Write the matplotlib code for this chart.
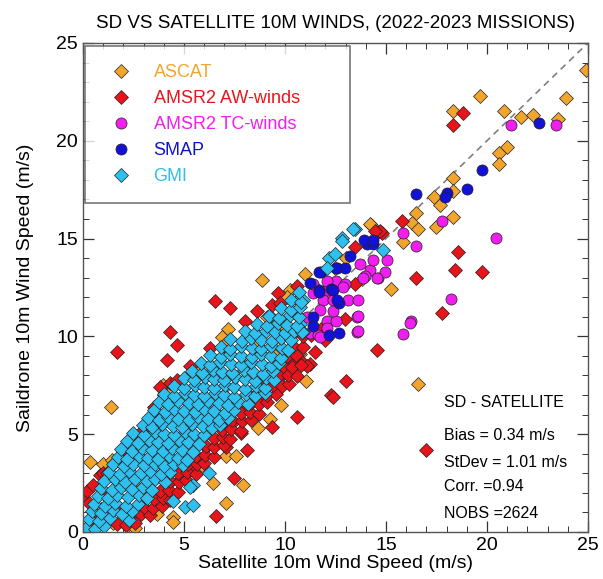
import matplotlib
matplotlib.use("Agg")
import matplotlib.pyplot as plt
from matplotlib.ticker import MultipleLocator
from matplotlib.lines import Line2D

plt.rcParams["font.family"] = ["Liberation Sans", "DejaVu Sans"]

# ---- data (satellite x, saildrone y, m/s) ----
ascat_x = [24.9, 19.65, 23.9, 18.3, 20.85, 21.7, 22.3, 23.5, 21.0, 20.6, 20.6, 18.3, 18.3, 17.4,
           17.7, 16.5, 16.3, 16.6, 17.5, 18.3, 14.25, 15.85, 15.25, 16.6, 14.2, 13.8, 11.0, 8.85,
           7.2, 6.9, 6.9, 11.05, 9.8, 8.65, 9.25, 7.1, 7.6, 7.9, 6.45, 7.1, 3.65, 4.45, 4.45,
           1.4, 0.35, 1.0, 1.45, 0.35, 1.5, 3.0, 3.3, 3.8, 4.3, 5.45, 5.8, 3.95, 4.3, 10.4, 10.75,
           9.1, 10.25, 10.1, 7.0, 10.65, 9.25, 0.1, 0.6, 2.2, 0.9, 2.0, 2.5, 4.0, 6.0, 8.0, 9.5,
           11.5, 12.5, 12.0, 13.0, 5.0, 3.0, 7.0, 8.5, 10.0, 2.6, 6.7, 8.9, 5.9]
ascat_y = [23.6, 22.3, 22.2, 21.5, 21.5, 21.2, 21.3, 21.1, 19.7, 19.4, 18.8, 18.1, 17.45, 17.1,
           16.7, 16.3, 15.8, 15.5, 15.6, 16.1, 15.7, 14.8, 12.4, 7.55, 15.75, 12.95, 13.2, 12.9,
           10.4, 9.95, 9.45, 7.7, 6.5, 5.3, 5.8, 3.9, 3.9, 2.4, 2.5, 1.5, 0.9, 0.75, 0.5,
           6.4, 3.6, 3.5, 3.7, 0.25, 0.45, 1.8, 2.65, 2.9, 2.55, 8.1, 8.25, 7.5, 7.1, 9.45, 9.1,
           11.0, 12.35, 12.0, 9.55, 9.1, 11.05, 0.1, 0.2, 0.3, 1.2, 1.0, 2.5, 4.0, 6.5, 8.5, 9.0,
           12.5, 13.5, 12.0, 14.0, 5.0, 3.5, 7.0, 9.5, 10.5, 0.2, 4.7, 7.2, 3.4]

amsr2_aw_x = [18.8, 18.3, 15.8, 14.55, 14.8, 18.55, 18.4, 19.75, 16.5, 17.8, 14.55, 13.0, 12.3,
              17.0, 1.7, 6.55, 7.3, 4.3, 4.65, 4.15, 9.65, 10.6, 6.6, 7.5, 8.1, 9.35, 10.6, 5.3,
              13.45, 14.7, 14.45, 13.45, 12.95, 11.8, 11.25, 10.75, 10.4, 12.4, 7.8, 7.1, 7.4,
              8.3, 9.1, 9.75, 11.1, 7.1, 7.8, 8.75, 4.65, 5.6, 6.1, 2.8, 2.8, 2.3, 0.0, 0.2, 0.85,
              1.5, 3.0, 2.8, 4.8, 4.3, 4.65, 5.3, 9.35, 9.75, 2.8, 3.3, 3.65, 3.8, 7.4,
              0.3, 0.5, 1.0, 0.3, 1.0, 1.8, 0.5, 1.2, 2.1, 6.3, 8.0, 8.6, 11.5, 12.0,
              1.2, 1.6, 2.0, 2.5, 3.5, 4.0,
              1.7, 2.15, 2.6, 2.85, 3.3, 3.0, 3.45, 3.9, 3.5, 3.95, 4.3, 3.8, 4.25, 4.7,
              4.3, 4.75, 5.1, 4.7, 5.15, 5.6, 5.2, 5.65, 6.0, 5.6, 6.05, 6.5, 6.1, 6.5, 7.0,
              6.5, 6.95, 7.3, 6.9, 7.35, 7.8, 7.4, 7.85, 8.3, 7.8, 8.25, 8.7, 8.3, 8.7, 9.1,
              9.1, 9.55, 9.4, 9.85, 10.2, 9.7, 10.15, 10.6, 9.9, 10.35, 10.8, 10.1, 10.55,
              10.4, 10.9, 10.9, 11.3]
amsr2_aw_y = [21.4, 20.8, 15.9, 15.3, 15.3, 14.3, 13.4, 13.3, 13.0, 11.2, 9.3, 7.7, 7.0,
              4.2, 9.2, 11.8, 11.45, 10.2, 9.55, 8.8, 12.2, 12.6, 0.8, 2.75, 4.2, 5.35, 5.9, 3.15,
              14.55, 15.4, 15.4, 12.7, 10.9, 10.4, 8.6, 8.8, 8.6, 6.9, 5.05, 4.35, 6.7,
              6.9, 7.6, 7.9, 8.5, 5.7, 6.3, 6.7, 3.5, 3.8, 4.35, 2.0, 1.0, 0.75, 1.8, 2.1, 2.9,
              2.8, 5.2, 1.3, 2.65, 7.6, 7.75, 8.5, 11.6, 11.7, 5.05, 5.35, 6.05, 7.4, 5.55,
              1.5, 2.4, 3.0, 0.3, 0.5, 1.2, 1.0, 1.8, 4.1, 9.4, 10.8, 11.3, 9.2, 9.8,
              3.0, 3.6, 4.2, 4.9, 6.4, 7.0,
              0.4, 0.35, 0.45, 0.9, 0.85, 1.3, 1.25, 1.35, 1.7, 1.75, 1.65, 2.1, 2.15, 2.05,
              2.6, 2.55, 2.65, 3.0, 3.05, 2.95, 3.5, 3.45, 3.55, 3.9, 3.95, 3.85, 4.4, 4.35, 4.45,
              4.8, 4.85, 4.75, 5.2, 5.25, 5.15, 5.7, 5.65, 5.75, 6.1, 6.15, 6.05, 6.6, 6.55, 6.65,
              7.0, 7.05, 7.5, 7.45, 7.55, 8.0, 8.05, 7.95, 8.5, 8.45, 8.55, 9.0, 9.05,
              9.5, 9.45, 10.0, 10.05]

amsr2_tc_x = [21.2, 23.4, 17.8, 15.85, 20.45, 16.5, 18.2, 16.25, 15.85, 13.7, 14.2, 14.6, 15.05,
              14.95, 13.95, 12.55, 12.95, 12.1, 11.9, 12.4, 13.1, 13.6, 13.55, 11.75, 12.1, 12.55,
              11.25, 11.65, 13.55, 16.2, 11.4, 12.4, 12.1, 11.75, 11.1, 11.4, 12.1, 14.35, 14.55,
              13.85, 12.85, 13.6, 13.6]
amsr2_tc_y = [20.8, 20.8, 15.9, 15.3, 15.05, 14.6, 11.9, 10.8, 10.1, 13.7, 13.4, 13.0, 13.9,
              13.3, 13.1, 12.85, 12.7, 12.35, 11.85, 11.85, 11.85, 11.85, 11.0, 11.35, 10.8, 10.8,
              10.15, 10.05, 10.2, 10.7, 12.2, 11.3, 10.45, 9.95, 11.0, 12.7, 12.85, 13.9, 13.0,
              13.0, 12.5, 11.05, 10.25]

smap_x = [22.6, 19.75, 16.5, 19.0, 18.0, 17.9, 14.05, 14.35, 13.2, 11.8, 12.6, 12.95, 11.25,
          11.7, 12.3, 12.7, 11.4, 11.4, 12.2, 12.7, 11.7, 11.7, 12.4, 13.9, 14.35, 12.55, 12.6]
smap_y = [20.9, 18.5, 17.3, 17.55, 17.35, 17.1, 14.7, 14.7, 14.1, 13.3, 13.5, 13.5, 12.75,
          12.35, 12.4, 11.7, 11.0, 10.55, 10.05, 10.15, 13.3, 12.25, 12.35, 14.95, 14.95, 13.5, 11.85]

gmi_x = [13.45, 12.8, 12.8, 12.2, 14.85, 12.1, 12.5, 10.65, 10.9, 10.5, 10.75, 10.4, 10.9,
         5.05, 5.45, 4.45, 5.45, 6.25, 13.35, 5.3,
         0.15, 0.6, 1.05,
         0.3, 0.8, 1.35, 2.3,
         0.45, 0.9, 1.5, 1.95, 2.45,
         0.55, 1.1, 1.6, 2.15, 2.7,
         0.75, 1.25, 1.7, 2.25, 2.75, 3.15,
         0.9, 1.45, 1.9, 2.45, 2.95, 3.4,
         1.05, 1.6, 2.1, 2.6, 3.15, 3.55, 4.05,
         1.3, 1.85, 2.3, 2.85, 3.3, 3.85, 4.3,
         1.5, 2.05, 2.5, 3.0, 3.55, 4.0, 4.5, 4.95,
         1.75, 2.2, 2.75, 3.2, 3.7, 4.25, 4.7, 5.15,
         1.9, 2.45, 2.9, 3.4, 3.95, 4.4, 4.9, 5.45,
         2.2, 2.7, 3.25, 3.7, 4.2, 4.75, 5.2, 5.75,
         2.5, 3.0, 3.55, 4.0, 4.5, 5.05, 5.5, 6.0,
         2.95, 3.4, 3.9, 4.45, 4.9, 5.4, 5.95, 6.4, 6.8,
         3.2, 3.75, 4.2, 4.7, 5.25, 5.7, 6.2, 6.75, 7.2,
         3.5, 4.05, 4.5, 5.0, 5.55, 6.0, 6.5, 7.05, 7.5,
         3.75, 4.2, 4.7, 5.25, 5.7, 6.2, 6.75, 7.2, 7.7, 8.15,
         4.0, 4.5, 5.05, 5.5, 6.0, 6.55, 7.0, 7.5, 8.05, 8.5, 9.0,
         4.5, 5.0, 5.55, 6.0, 6.5, 7.05, 7.5, 8.0, 8.55, 9.0,
         5.0, 5.5, 6.05, 6.5, 7.0, 7.55, 8.0, 8.5, 9.05, 9.45,
         5.4, 5.9, 6.45, 6.9, 7.4, 7.95, 8.4, 8.9, 9.4,
         5.85, 6.3, 6.8, 7.35, 7.8, 8.3, 8.85, 9.3, 9.7,
         6.3, 6.85, 7.3, 7.8, 8.35, 8.8, 9.3, 9.8,
         6.85, 7.3, 7.8, 8.35, 8.8, 9.3, 9.85, 10.15,
         7.3, 7.85, 8.3, 8.8, 9.35, 9.8, 10.3,
         8.0, 8.5, 9.05, 9.5, 10.0, 10.45, 10.85,
         8.6, 9.1, 9.65, 10.1, 10.6,
         9.2, 9.7, 10.25, 10.7,
         9.8, 10.3, 10.75,
         10.3, 10.8,
         10.7]
gmi_y = [15.5, 15.05, 14.9, 14.0, 14.4, 13.5, 14.2, 11.85, 11.85, 11.2, 10.65, 10.15, 10.2,
         1.3, 1.4, 1.6, 2.4, 3.0, 15.5, 2.3,
         0.2, 0.15, 0.3,
         0.65, 0.55, 0.7, 0.6,
         1.05, 0.95, 1.1, 0.9, 1.05,
         1.45, 1.35, 1.5, 1.35, 1.45,
         1.85, 1.75, 1.9, 1.8, 1.9, 1.75,
         2.25, 2.15, 2.3, 2.2, 2.3, 2.15,
         2.6, 2.7, 2.55, 2.7, 2.6, 2.7, 2.55,
         3.05, 2.95, 3.1, 3.0, 3.1, 2.95, 3.05,
         3.45, 3.35, 3.5, 3.4, 3.45, 3.35, 3.5, 3.4,
         3.85, 3.75, 3.9, 3.8, 3.75, 3.9, 3.8, 3.7,
         4.25, 4.15, 4.3, 4.2, 4.15, 4.3, 4.2, 4.1,
         4.65, 4.55, 4.7, 4.6, 4.55, 4.7, 4.6, 4.5,
         5.05, 4.95, 5.1, 5.0, 4.95, 5.1, 5.0, 4.95,
         5.45, 5.35, 5.5, 5.4, 5.35, 5.5, 5.4, 5.3, 5.45,
         5.85, 5.75, 5.9, 5.8, 5.75, 5.9, 5.8, 5.7, 5.85,
         6.25, 6.15, 6.3, 6.2, 6.15, 6.3, 6.2, 6.1, 6.25,
         6.65, 6.55, 6.7, 6.6, 6.55, 6.7, 6.6, 6.5, 6.65, 6.55,
         7.05, 6.95, 7.1, 7.0, 6.95, 7.1, 7.0, 6.9, 7.05, 6.95, 7.1,
         7.45, 7.35, 7.5, 7.4, 7.35, 7.5, 7.4, 7.3, 7.45, 7.35,
         7.85, 7.75, 7.9, 7.8, 7.75, 7.9, 7.8, 7.7, 7.85, 7.75,
         8.25, 8.15, 8.3, 8.2, 8.15, 8.3, 8.2, 8.1, 8.25,
         8.65, 8.55, 8.7, 8.6, 8.55, 8.7, 8.6, 8.5, 8.65,
         9.05, 8.95, 9.1, 9.0, 8.95, 9.1, 9.0, 8.9,
         9.45, 9.35, 9.5, 9.4, 9.35, 9.5, 9.4, 9.3,
         9.85, 9.75, 9.9, 9.8, 9.75, 9.9, 9.8,
         10.25, 10.15, 10.3, 10.2, 10.15, 10.3, 10.2,
         10.65, 10.55, 10.7, 10.6, 10.55,
         11.05, 10.95, 11.1, 11.0,
         11.45, 11.35, 11.5,
         11.85, 11.75,
         12.25]

labels = ["ASCAT", "AMSR2 AW-winds", "AMSR2 TC-winds", "SMAP", "GMI"]
colors = ["#F2A52C", "#E8141C", "#F01EEE", "#1212D6", "#2EC0EE"]
markers = ["D", "D", "o", "o", "D"]
stats = ["SD - SATELLITE", "Bias = 0.34 m/s", "StDev = 1.01 m/s", "Corr. =0.94", "NOBS =2624"]

fig = plt.figure(figsize=(6.03, 5.79), dpi=100)
ax = fig.add_axes([0.1376, 0.0812, 0.8374, 0.8446])

ax.plot([0, 25], [0, 25], color="gray", linestyle=(0, (4, 3)), linewidth=1.2, zorder=1)

series = [(ascat_x, ascat_y), (amsr2_aw_x, amsr2_aw_y), (amsr2_tc_x, amsr2_tc_y),
          (smap_x, smap_y), (gmi_x, gmi_y)]
for (xs, ys), c, m in zip(series, colors, markers):
    ms = 7.2 if m == "D" else 8.0
    ax.plot(xs, ys, linestyle="none", marker=m, ms=ms, mfc=c, mec="#222222",
            mew=0.5, zorder=2, clip_on=True)

ax.set_xlim(0, 25)
ax.set_ylim(0, 25)
ax.xaxis.set_major_locator(MultipleLocator(5))
ax.yaxis.set_major_locator(MultipleLocator(5))
ax.xaxis.set_minor_locator(MultipleLocator(1))
ax.yaxis.set_minor_locator(MultipleLocator(1))
ax.tick_params(which="both", direction="in", top=True, right=True, labelsize=14, colors="#333333")
ax.tick_params(which="major", length=8, width=0.9)
ax.tick_params(which="minor", length=4, width=0.7)
for t in ax.get_xticklabels() + ax.get_yticklabels():
    t.set_color("black")
for s in ax.spines.values():
    s.set_color("#555555")
    s.set_linewidth(1.0)

ax.set_xlabel("Satellite 10m Wind Speed (m/s)", fontsize=14, labelpad=1)
ax.set_ylabel("Saildrone 10m Wind Speed (m/s)", fontsize=14, labelpad=16)
ax.set_title("SD VS SATELLITE 10M WINDS, (2022-2023 MISSIONS)", fontsize=13.5, pad=11)

handles = [Line2D([], [], linestyle="none", marker=m, ms=(7.2 if m == "D" else 8.0),
                  mfc=c, mec="#222222", mew=0.5) for c, m in zip(colors, markers)]
leg = ax.legend(handles, labels, loc="upper left", bbox_to_anchor=(0.004, 0.994, 0.525, 0),
                mode="expand", fontsize=13, frameon=True, fancybox=False, borderpad=1.0,
                labelspacing=0.5, handletextpad=0.8, handlelength=2.0, borderaxespad=0)
leg.get_frame().set_edgecolor("#555555")
leg.get_frame().set_linewidth(1.2)
for txt, c in zip(leg.get_texts(), colors):
    txt.set_color(c)

stat_y = [6.6, 4.95, 3.57, 2.3, 0.92]
for s, yv in zip(stats, stat_y):
    ax.text(17.85, yv, s, fontsize=11.5, va="center", ha="left")

fig.savefig("out.png", dpi=100)
